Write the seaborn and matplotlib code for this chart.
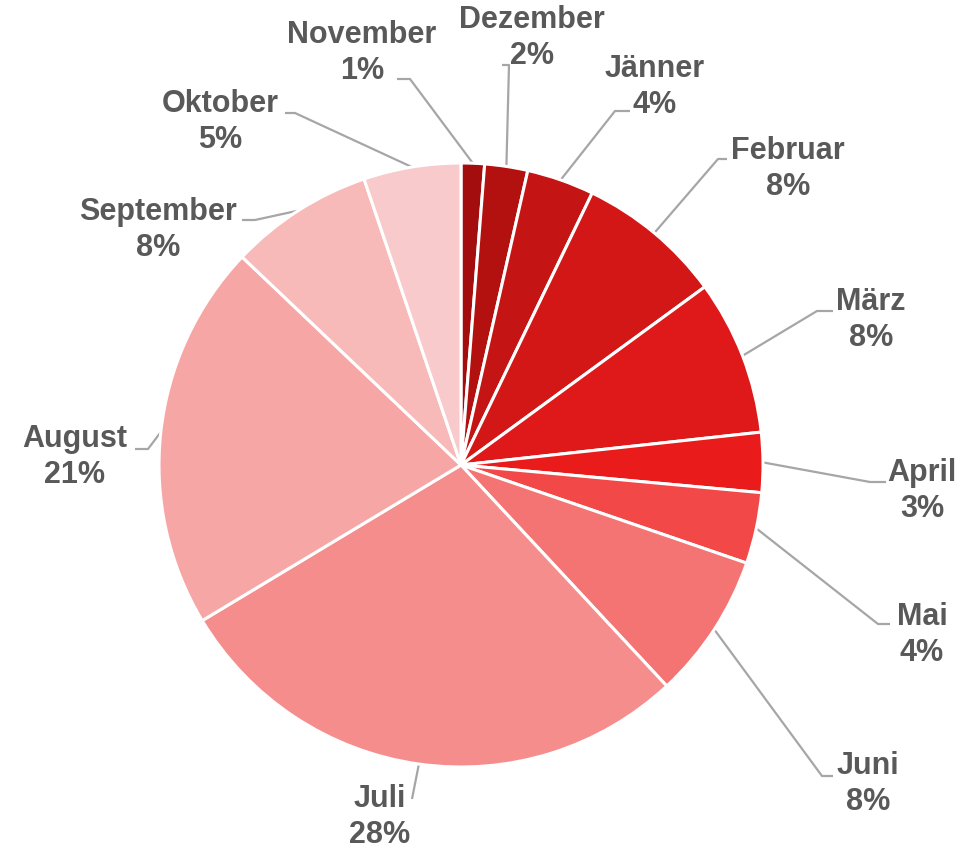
import numpy as np
import matplotlib
matplotlib.use("Agg")
import matplotlib.pyplot as plt
import seaborn as sns

# ---- data ----
months = ["November", "Dezember", "Jänner", "Februar", "März", "April",
          "Mai", "Juni", "Juli", "August", "September", "Oktober"]
shares = [1.25, 2.3, 3.6, 7.8, 8.3, 3.2, 3.8, 7.8, 28.3, 20.7, 7.7, 5.2]
colors_hex = ["#A30D0D", "#B31010", "#C41414", "#D31616", "#DF1919", "#EA1B1B",
              "#F34848", "#F47474", "#F58D8D", "#F7A6A6", "#F8B9B9", "#F9CACB"]

# ---- layout (pixel positions of label blocks and leader elbows) ----
label_centers = [(362, 53), (532, 38), (655, 87), (788, 169), (871, 320), (922, 491),
                 (922, 635), (868, 784), (380, 817), (75, 457), (158, 230), (220, 122)]
leader_starts = [(397, 80), (502, 66), (630, 112), (727, 160), (833, 312), (886, 483),
                 (890, 625), (833, 777), (412, 800), (135, 450), (242, 221), (285, 114)]
leader_elbows = [(410, 80), (509, 66), (615, 112), (718, 160), (817, 312), (870, 483),
                 (878, 625), (822, 777), (412, 800), (148, 450), (255, 221), (295, 114)]

W, H = 969, 853
CX, CY, R = 461, 466, 302

sns.set_theme(style="white")
plt.rcParams["font.family"] = ["Liberation Sans", "DejaVu Sans"]

fig = plt.figure(figsize=(W / 100, H / 100), dpi=100)
ax = fig.add_axes([0, 0, 1, 1])

palette = sns.color_palette(colors_hex)
wedges, _ = ax.pie(shares, colors=palette, startangle=90, counterclock=False,
                   radius=1.0, wedgeprops=dict(edgecolor="white", linewidth=2.2))

def to_data(p):
    return ((p[0] - CX) / R, (CY - p[1]) / R)

total = float(np.sum(shares))
cum = np.cumsum([0] + shares[:-1])
for i, (m, v) in enumerate(zip(months, shares)):
    pct = int(round(100 * v / total))
    lx, ly = to_data(label_centers[i])
    ax.text(lx, ly, f"{m}\n{pct}%", ha="center", va="center", fontsize=22,
            fontweight="bold", color="#595959", linespacing=1.3)
    mid = np.deg2rad(90 - 360 * (cum[i] + v / 2) / total)
    ex, ey = np.cos(mid), np.sin(mid)
    sx, sy = to_data(leader_starts[i])
    bx, by = to_data(leader_elbows[i])
    ax.plot([sx, bx, ex], [sy, by, ey], color="#A6A6A6", lw=1.6,
            solid_capstyle="butt", zorder=0)

ax.set_xlim((0 - CX) / R, (W - CX) / R)
ax.set_ylim((CY - H) / R, (CY - 0) / R)
ax.set_aspect("auto")
ax.axis("off")

fig.savefig("out.png", dpi=100, facecolor="white")
